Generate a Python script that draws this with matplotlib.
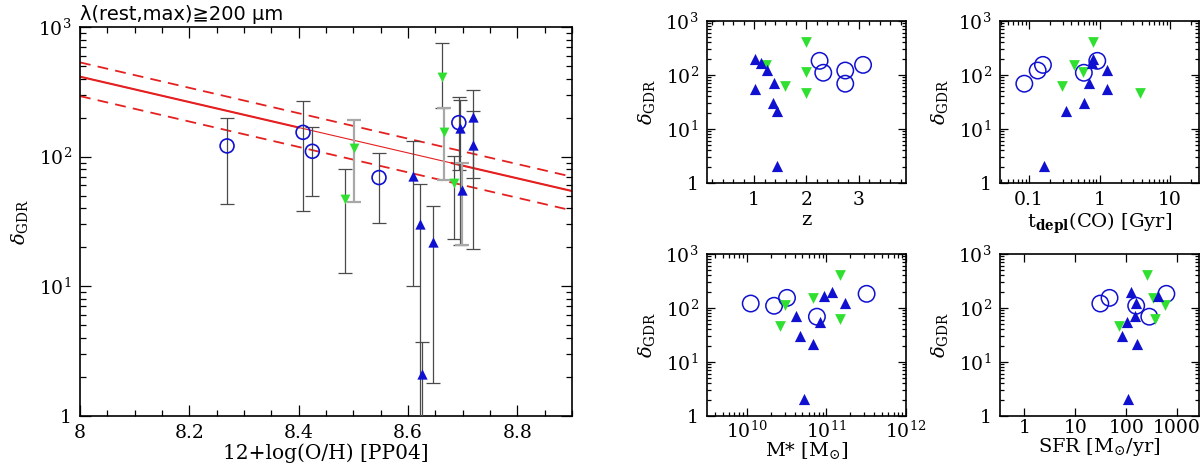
import numpy as np
import matplotlib
matplotlib.use('Agg')
import matplotlib.pyplot as plt
from matplotlib.ticker import FixedLocator, FuncFormatter, LogLocator, MultipleLocator, NullFormatter

plt.rcParams['font.family'] = ['DejaVu Serif', 'DejaVu Sans']
plt.rcParams['mathtext.fontset'] = 'dejavuserif'

# --- data: open circles (blue)
circ_oh = [8.269, 8.408, 8.425, 8.547, 8.693]
circ_gdr = [121, 154, 110, 69, 183]
circ_hi = [198, 270, 170, 107, 288]
circ_lo = [43, 38, 49.5, 31, 79]
circ_z = [2.74, 3.08, 2.32, 2.74, 2.25]
circ_tdep = [0.133, 0.158, 0.60, 0.086, 0.93]
circ_mstar = [1.12e10, 3.2e10, 2.2e10, 7.6e10, 3.2e11]
circ_sfr = [31, 47, 157, 284, 615]
circ_grey = [False, False, False, False, False]

# --- data: green down-triangles
grn_oh = [8.484, 8.502, 8.663, 8.665, 8.685]
grn_gdr = [47, 116, 414, 155, 63]
grn_hi = [81, 192, 757, 236, 102]
grn_lo = [12.6, 44.5, 236, 66, 23]
grn_z = [2.0, 2.0, 2.0, 1.22, 1.59]
grn_tdep = [3.74, 0.58, 0.81, 0.44, 0.29]
grn_mstar = [2.6e10, 3.0e10, 1.5e11, 6.7e10, 1.47e11]
grn_sfr = [72, 571, 256, 336, 373]
grn_grey = [False, True, False, True, False]

# --- data: blue up-triangles
blu_oh = [8.609, 8.622, 8.626, 8.646, 8.695, 8.698, 8.718, 8.718]
blu_gdr = [71, 30, 2.1, 22, 165, 55, 201, 124]
blu_hi = [131, 61.5, 3.7, 42, 273, 89, 327, 224]
blu_lo = [10, 0.3, 0.3, 1.8, 21, 21, 19.3, 69]
blu_z = [1.38, 1.36, 1.44, 1.44, 1.13, 1.01, 1.01, 1.24]
blu_tdep = [0.71, 0.61, 0.162, 0.33, 0.79, 1.26, 0.80, 1.29]
blu_mstar = [4.1e10, 4.7e10, 5.2e10, 6.7e10, 9.3e10, 8.2e10, 1.19e11, 1.7e11]
blu_sfr = [150, 81, 106, 163, 428, 103, 126, 157]
blu_grey = [False, False, False, False, False, True, False, False]

# fit: log(gdr) = fit_int + fit_slope * (oh - 8)
fit_int = 2.617
fit_slope = -0.98
fit_up = 0.11
fit_dn = -0.15

BLUE = '#1010d0'
GREEN = '#30e030'
RED = '#e52020'


def pow_fmt(v, pos):
    n = int(round(np.log10(v)))
    if n == 0:
        return '1'
    return r'$10^{%d}$' % n


def style_log_y(ax, size, major_len, minor_len):
    ax.set_yscale('log')
    ax.set_ylim(1, 1000)
    ax.yaxis.set_major_locator(FixedLocator([1, 10, 100, 1000]))
    ax.yaxis.set_minor_locator(LogLocator(base=10, subs=np.arange(2, 10)))
    ax.yaxis.set_major_formatter(FuncFormatter(pow_fmt))
    ax.yaxis.set_minor_formatter(NullFormatter())
    ax.tick_params(which='both', direction='in', top=True, right=True, labelsize=size, width=0.9, pad=6)
    ax.tick_params(which='major', length=major_len)
    ax.tick_params(which='minor', length=minor_len)
    for sp in ax.spines.values():
        sp.set_linewidth(1.2)


fig = plt.figure(figsize=(12, 4.66), dpi=100)

# ---------------- main panel
ax = fig.add_axes([80 / 1200, 50 / 466, 492 / 1200, 389 / 466])
style_log_y(ax, 13.5, 8, 4)
ax.set_xlim(8.0, 8.9)
ax.xaxis.set_major_locator(MultipleLocator(0.2))
ax.xaxis.set_minor_locator(MultipleLocator(0.05))
ax.xaxis.set_major_formatter(FuncFormatter(lambda v, p: ('%.1f' % v).rstrip('0').rstrip('.')))

xx = np.linspace(8.0, 8.9, 50)
ax.plot(xx, 10 ** (fit_int + fit_slope * (xx - 8)), color=RED, lw=0.8, zorder=2)
for a, b in [(8.0, 8.4), (8.68, 8.9)]:
    seg = np.linspace(a, b, 20)
    ax.plot(seg, 10 ** (fit_int + fit_slope * (seg - 8)), color=RED, lw=1.5, zorder=2)
for off in (fit_up, fit_dn):
    ax.plot(xx, 10 ** (fit_int + off + fit_slope * (xx - 8)), color=RED, lw=1.3,
            dashes=(6, 4), zorder=2)

groups = [
    (circ_oh, circ_gdr, circ_lo, circ_hi, circ_grey),
    (grn_oh, grn_gdr, grn_lo, grn_hi, grn_grey),
    (blu_oh, blu_gdr, blu_lo, blu_hi, blu_grey),
]
for oh, g, lo, hi, grey in groups:
    for i in range(len(oh)):
        col = '#a8a8a8' if grey[i] else '#4a4a4a'
        lw = 1.6 if grey[i] else 0.9
        ax.errorbar([oh[i]], [g[i]], yerr=[[g[i] - lo[i]], [hi[i] - g[i]]], fmt='none',
                    ecolor=col, elinewidth=lw, capsize=5, capthick=lw, zorder=3)

ax.scatter(circ_oh, circ_gdr, s=100, facecolors='none', edgecolors=BLUE, linewidths=1.2, zorder=4)
ax.scatter(grn_oh, grn_gdr, s=50, marker='v', color=GREEN, linewidths=0, zorder=5)
ax.scatter(blu_oh, blu_gdr, s=55, marker='^', color=BLUE, linewidths=0, zorder=5)

ax.set_xlabel('12+log(O/H) [PP04]', fontsize=14.5, labelpad=1)
ax.set_ylabel(r'$\delta_{\rm GDR}$', fontsize=14, labelpad=6)
ax.text(0.0, 1.008, '\u03bb(rest,max)\u2267200 \u03bcm', transform=ax.transAxes,
        fontsize=14, ha='left', va='bottom', family=['DejaVu Sans'])

# ---------------- small panels
W, H = 199 / 1200, 162 / 466
pos = {
    'z': [707 / 1200, 283 / 466, W, H],
    'tdep': [1000 / 1200, 283 / 466, W, H],
    'mstar': [707 / 1200, 50 / 466, W, H],
    'sfr': [1000 / 1200, 50 / 466, W, H],
}
xdata = {
    'z': (circ_z, grn_z, blu_z),
    'tdep': (circ_tdep, grn_tdep, blu_tdep),
    'mstar': (circ_mstar, grn_mstar, blu_mstar),
    'sfr': (circ_sfr, grn_sfr, blu_sfr),
}
xlabels = {
    'z': 'z',
    'tdep': r't$_{\rm \mathbf{depl}}$(CO) [Gyr]',
    'mstar': r'M* [M$_{\odot}$]',
    'sfr': r'SFR [M$_{\odot}$/yr]',
}
# (x tick pad, x label pad)
xpads = {'z': (6, 1), 'tdep': (6, 1), 'mstar': (3, -1), 'sfr': (2.5, -1)}

for key in ['z', 'tdep', 'mstar', 'sfr']:
    a = fig.add_axes(pos[key])
    style_log_y(a, 13.5, 6, 3)
    cx, gx, bx = xdata[key]
    a.scatter(cx, circ_gdr, s=140, facecolors='none', edgecolors=BLUE, linewidths=1.1, zorder=4)
    a.scatter(gx, grn_gdr, s=60, marker='v', color=GREEN, linewidths=0, zorder=5)
    a.scatter(bx, blu_gdr, s=65, marker='^', color=BLUE, linewidths=0, zorder=5)
    if key == 'z':
        a.set_xlim(0.1, 3.9)
        a.xaxis.set_major_locator(MultipleLocator(1))
        a.xaxis.set_minor_locator(MultipleLocator(0.2))
    else:
        a.set_xscale('log')
        if key == 'tdep':
            a.set_xlim(10 ** -1.41, 10 ** 1.41)
            a.xaxis.set_major_locator(FixedLocator([0.1, 1, 10]))
            a.xaxis.set_major_formatter(FuncFormatter(lambda v, p: '%g' % v))
        elif key == 'mstar':
            a.set_xlim(10 ** 9.5, 1e12)
            a.xaxis.set_major_locator(FixedLocator([1e10, 1e11, 1e12]))
            a.xaxis.set_major_formatter(FuncFormatter(pow_fmt))
        else:
            a.set_xlim(10 ** -0.48, 10 ** 3.43)
            a.xaxis.set_major_locator(FixedLocator([1, 10, 100, 1000]))
            a.xaxis.set_major_formatter(FuncFormatter(lambda v, p: '%g' % v))
        a.xaxis.set_minor_locator(LogLocator(base=10, subs=np.arange(2, 10)))
        a.xaxis.set_minor_formatter(NullFormatter())
    a.tick_params(which='both', direction='in', top=True, right=True)
    a.tick_params(axis='x', which='major', pad=xpads[key][0])
    a.set_xlabel(xlabels[key], fontsize=14, labelpad=xpads[key][1])
    a.set_ylabel(r'$\delta_{\rm GDR}$', fontsize=14, labelpad=6)

fig.savefig('out.png', dpi=100)
